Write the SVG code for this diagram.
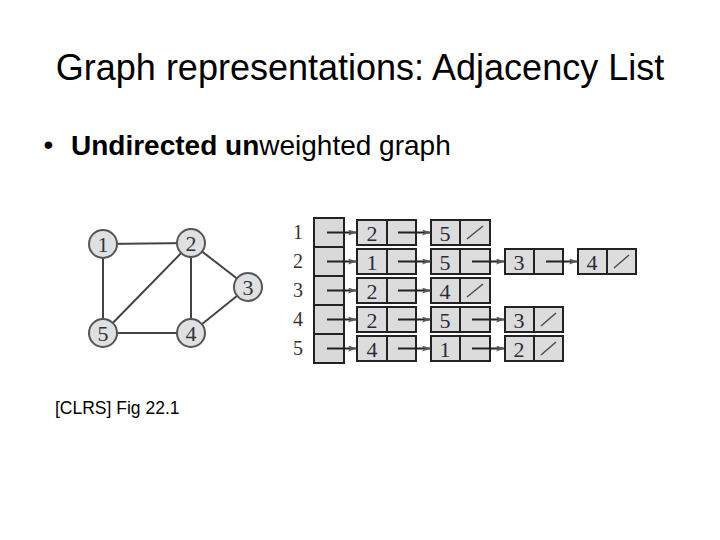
<svg xmlns="http://www.w3.org/2000/svg" width="720" height="540" viewBox="0 0 720 540">
<style>
.title{font-family:"Liberation Sans",Arial,sans-serif;font-size:36px;fill:#000}
.bullet{font-family:"Liberation Sans",Arial,sans-serif;font-size:28px;fill:#000}
.cap{font-family:"Liberation Sans",Arial,sans-serif;font-size:17.5px;fill:#000}
.vtx{fill:#dfe0e2;stroke:#555;stroke-width:2}
.vlbl{font-family:"Liberation Serif","Times New Roman",serif;font-size:22px;fill:#333;text-anchor:middle}
.edge{stroke:#444;stroke-width:2;fill:none}
.arr{fill:#d9d9d9;stroke:#222;stroke-width:2}
.cell{fill:#dcdcdc;stroke:#222;stroke-width:2}
.div{stroke:#222;stroke-width:2}
.num{font-family:"Liberation Serif","Times New Roman",serif;font-size:22px;fill:#2b2b3a;text-anchor:middle}
.rowl{font-family:"Liberation Serif","Times New Roman",serif;font-size:20px;fill:#333;text-anchor:middle}
.ptr{stroke:#222;stroke-width:2;fill:none;marker-end:url(#ah)}
.nil{stroke:#444;stroke-width:1.3}
</style>
<defs>
<marker id="ah" markerWidth="9" markerHeight="6" refX="9" refY="3" orient="auto" markerUnits="userSpaceOnUse">
<path d="M0,0 L9,3 L0,6 L2,3 Z" fill="#555"/>
</marker>
</defs>
<rect width="720" height="540" fill="#fff"/>
<text class="title" x="360" y="80" text-anchor="middle">Graph representations: Adjacency List</text>
<text class="bullet" x="43.5" y="154">•</text>
<text class="bullet" x="71" y="155"><tspan font-weight="bold">Undirected un</tspan>weighted graph</text>
<text class="cap" x="55" y="414">[CLRS] Fig 22.1</text>

<g id="edges">
<line class="edge" x1="103" y1="244" x2="191" y2="243"/>
<line class="edge" x1="103" y1="244" x2="103" y2="333"/>
<line class="edge" x1="191" y1="243" x2="103" y2="333"/>
<line class="edge" x1="191" y1="243" x2="191" y2="333"/>
<line class="edge" x1="191" y1="243" x2="248" y2="287"/>
<line class="edge" x1="248" y1="287" x2="191" y2="333"/>
<line class="edge" x1="103" y1="333" x2="191" y2="333"/>
</g>
<g id="v1"><circle class="vtx" cx="103" cy="244" r="14"/><text class="vlbl" x="103" y="251.5">1</text></g>
<g id="v2"><circle class="vtx" cx="191" cy="243" r="14"/><text class="vlbl" x="191" y="250.5">2</text></g>
<g id="v3"><circle class="vtx" cx="248" cy="287" r="14"/><text class="vlbl" x="248" y="294.5">3</text></g>
<g id="v4"><circle class="vtx" cx="191" cy="333" r="14"/><text class="vlbl" x="191" y="340.5">4</text></g>
<g id="v5"><circle class="vtx" cx="103" cy="333" r="14"/><text class="vlbl" x="103" y="340.5">5</text></g>

<g id="array">
<text class="rowl" x="298" y="239">1</text>
<text class="rowl" x="298" y="268">2</text>
<text class="rowl" x="298" y="297">3</text>
<text class="rowl" x="298" y="326">4</text>
<text class="rowl" x="298" y="355">5</text>
<rect class="arr" x="314" y="218" width="30" height="29"/>
<rect class="arr" x="314" y="247" width="30" height="29"/>
<rect class="arr" x="314" y="276" width="30" height="29"/>
<rect class="arr" x="314" y="305" width="30" height="29"/>
<rect class="arr" x="314" y="334" width="30" height="29"/>
</g>

<g id="lists">
<g id="r1n1"><rect class="cell" x="357" y="220" width="59" height="25"/><line class="div" x1="387" y1="220" x2="387" y2="245"/><text class="num" x="372" y="240.5">2</text></g>
<g id="r1n2"><rect class="cell" x="431" y="220" width="59" height="25"/><line class="div" x1="460" y1="220" x2="460" y2="245"/><text class="num" x="445" y="240.5">5</text><line class="nil" x1="467" y1="239" x2="483" y2="226"/></g>
<g id="r2n1"><rect class="cell" x="357" y="249" width="59" height="25"/><line class="div" x1="387" y1="249" x2="387" y2="274"/><text class="num" x="372" y="269.5">1</text></g>
<g id="r2n2"><rect class="cell" x="431" y="249" width="59" height="25"/><line class="div" x1="460" y1="249" x2="460" y2="274"/><text class="num" x="445" y="269.5">5</text></g>
<g id="r2n3"><rect class="cell" x="505" y="249" width="58" height="25"/><line class="div" x1="534" y1="249" x2="534" y2="274"/><text class="num" x="519" y="269.5">3</text></g>
<g id="r2n4"><rect class="cell" x="578" y="249" width="58" height="25"/><line class="div" x1="607" y1="249" x2="607" y2="274"/><text class="num" x="592" y="269.5">4</text><line class="nil" x1="614" y1="268" x2="629" y2="255"/></g>
<g id="r3n1"><rect class="cell" x="357" y="278" width="59" height="25"/><line class="div" x1="387" y1="278" x2="387" y2="303"/><text class="num" x="372" y="298.5">2</text></g>
<g id="r3n2"><rect class="cell" x="431" y="278" width="59" height="25"/><line class="div" x1="460" y1="278" x2="460" y2="303"/><text class="num" x="445" y="298.5">4</text><line class="nil" x1="467" y1="297" x2="483" y2="284"/></g>
<g id="r4n1"><rect class="cell" x="357" y="307" width="59" height="25"/><line class="div" x1="387" y1="307" x2="387" y2="332"/><text class="num" x="372" y="327.5">2</text></g>
<g id="r4n2"><rect class="cell" x="431" y="307" width="59" height="25"/><line class="div" x1="460" y1="307" x2="460" y2="332"/><text class="num" x="445" y="327.5">5</text></g>
<g id="r4n3"><rect class="cell" x="505" y="307" width="58" height="25"/><line class="div" x1="534" y1="307" x2="534" y2="332"/><text class="num" x="519" y="327.5">3</text><line class="nil" x1="541" y1="326" x2="556" y2="313"/></g>
<g id="r5n1"><rect class="cell" x="357" y="336" width="59" height="25"/><line class="div" x1="387" y1="336" x2="387" y2="361"/><text class="num" x="372" y="356.5">4</text></g>
<g id="r5n2"><rect class="cell" x="431" y="336" width="59" height="25"/><line class="div" x1="460" y1="336" x2="460" y2="361"/><text class="num" x="445" y="356.5">1</text></g>
<g id="r5n3"><rect class="cell" x="505" y="336" width="58" height="25"/><line class="div" x1="534" y1="336" x2="534" y2="361"/><text class="num" x="519" y="356.5">2</text><line class="nil" x1="541" y1="355" x2="556" y2="342"/></g>
</g>

<g id="pointers">
<line class="ptr" x1="327" y1="232.5" x2="357" y2="232.5"/>
<line class="ptr" x1="398" y1="232.5" x2="431" y2="232.5"/>
<line class="ptr" x1="327" y1="261.5" x2="357" y2="261.5"/>
<line class="ptr" x1="398" y1="261.5" x2="431" y2="261.5"/>
<line class="ptr" x1="472" y1="261.5" x2="505" y2="261.5"/>
<line class="ptr" x1="546" y1="261.5" x2="578" y2="261.5"/>
<line class="ptr" x1="327" y1="290.5" x2="357" y2="290.5"/>
<line class="ptr" x1="398" y1="290.5" x2="431" y2="290.5"/>
<line class="ptr" x1="327" y1="319.5" x2="357" y2="319.5"/>
<line class="ptr" x1="398" y1="319.5" x2="431" y2="319.5"/>
<line class="ptr" x1="472" y1="319.5" x2="505" y2="319.5"/>
<line class="ptr" x1="327" y1="348.5" x2="357" y2="348.5"/>
<line class="ptr" x1="398" y1="348.5" x2="431" y2="348.5"/>
<line class="ptr" x1="472" y1="348.5" x2="505" y2="348.5"/>
</g>
</svg>
